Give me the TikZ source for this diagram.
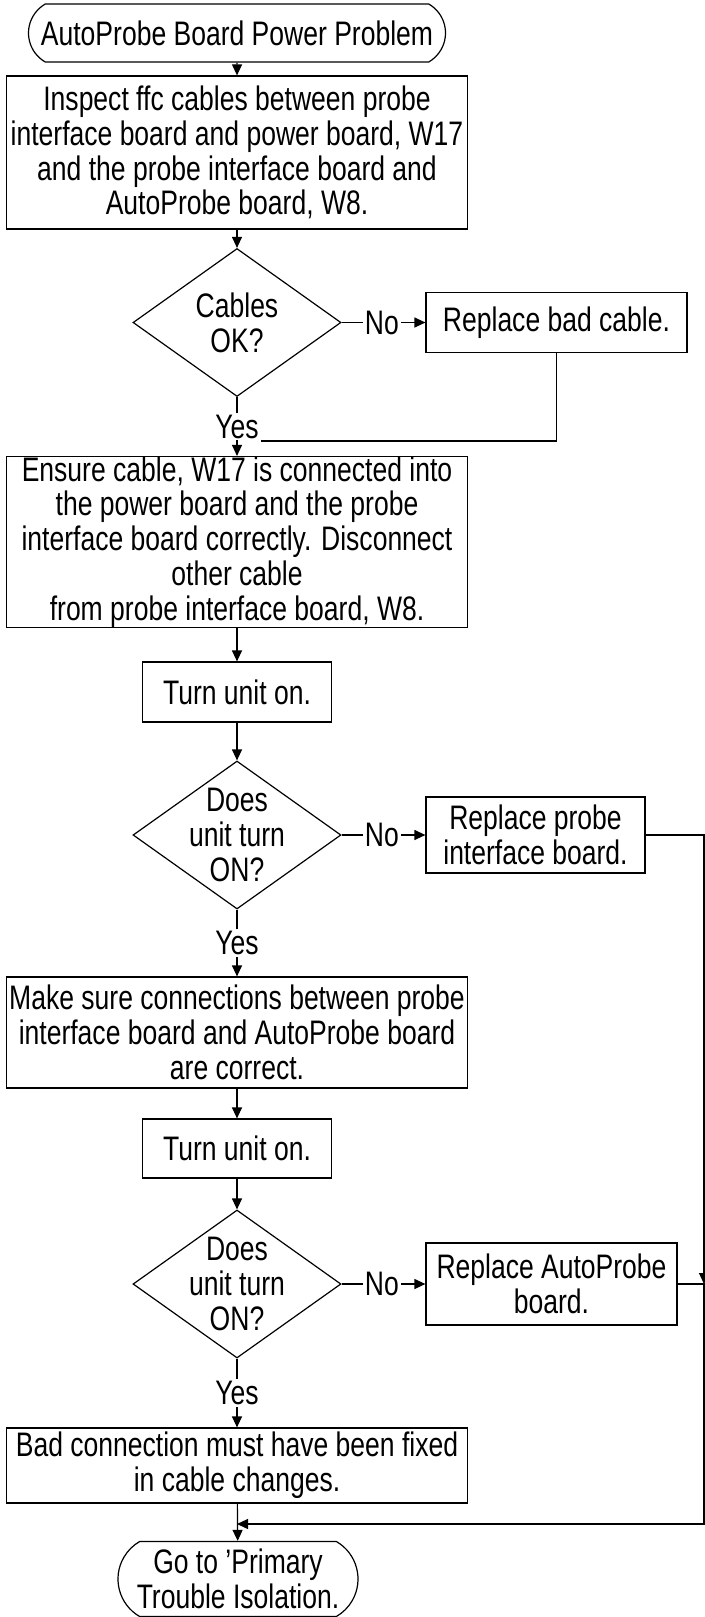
\documentclass[tikz,border=0pt]{standalone}
\usepackage{fontspec}
\setmainfont{Liberation Sans}[FakeStretch=0.78]
\usepackage{tikz}
\usetikzlibrary{arrows.meta, positioning, shapes.geometric, shapes.misc}

\tikzset{
  box/.style={draw, rectangle, align=center, inner sep=0pt},
  term/.style={draw, rounded rectangle, rounded rectangle arc length=120, align=center, inner sep=0pt},
  test/.style={draw, diamond, inner sep=0pt, minimum width=104pt, minimum height=74pt,
    label={[align=center]center:#1}},
  flow/.style={-{Triangle[length=5.5pt,width=5pt]}},
  lbl/.style={fill=white, inner sep=1pt},
}

\begin{document}
\begin{tikzpicture}[x=0.5pt, y=-0.5pt, line width=0.6pt, font={\fontsize{17}{17.4}\selectfont}]
  \useasboundingbox (0,0) rectangle (705,1617);

  % main column
  \node[term, minimum width=208.5pt, minimum height=29pt] (start) at (237,33) {AutoProbe Board Power Problem};
  \node[box, minimum width=230.5pt, minimum height=76.5pt] (inspect) at (237,152.5)
    {Inspect ffc cables between probe\\interface board and power board, W17\\and the probe interface board and\\AutoProbe board, W8.};
  \node[test={Cables\\OK?}] (cablesok) at (237,322.5) {};
  \node[box, minimum width=230.5pt, minimum height=85pt] (ensure) at (237,542)
    {Ensure cable, W17 is connected into\\the power board and the probe\\interface board correctly. Disconnect\\other cable\\from probe interface board, W8.};
  \node[box, minimum width=94.5pt, minimum height=30pt] (turnon1) at (237,692) {Turn unit on.};
  \node[test={Does\\unit turn\\ON?}] (turns1) at (237,835) {};
  \node[box, minimum width=230.5pt, minimum height=55.5pt] (connect) at (237,1032.5)
    {Make sure connections between probe\\interface board and AutoProbe board\\are correct.};
  \node[box, minimum width=94.5pt, minimum height=29.5pt] (turnon2) at (237,1148.5) {Turn unit on.};
  \node[test={Does\\unit turn\\ON?}] (turns2) at (237,1284) {};
  \node[box, minimum width=230.5pt, minimum height=37.5pt] (fixed) at (237,1465.5)
    {Bad connection must have been fixed\\in cable changes.};
  \node[term, minimum width=120pt, minimum height=37.5pt] (gotopti) at (238,1579) {Go to 'Primary\\Trouble Isolation.};

  % side boxes
  \node[box, minimum width=130.5pt, minimum height=30pt] (badcable) at (556.5,322.5) {Replace bad cable.};
  \node[box, minimum width=109.5pt, minimum height=38pt] (rpib) at (535.5,835) {Replace probe\\interface board.};
  \node[box, minimum width=125.5pt, minimum height=41pt] (rapb) at (551.5,1284) {Replace AutoProbe\\board.};

  \coordinate (railA) at (704,1284);
  \coordinate (merge) at (237,1524);

  % arrows
  \draw[flow] (start) -- (inspect);
  \draw[flow] (inspect) -- (cablesok);
  \draw[flow] (cablesok) -- node[lbl, pos=0.48] (no1) {No} (badcable);
  \draw[flow] (cablesok) -- node[lbl] (yes1) {Yes} (ensure);
  \draw (badcable.south) |- (yes1.south east);
  \draw[flow] (ensure) -- (turnon1);
  \draw[flow] (turnon1) -- (turns1);
  \draw[flow] (turns1) -- node[lbl, pos=0.48] (no2) {No} (rpib);
  \draw[flow] (turns1) -- node[lbl] (yes2) {Yes} (connect);
  \draw[flow] (connect) -- (turnon2);
  \draw[flow] (turnon2) -- (turns2);
  \draw[flow] (turns2) -- node[lbl, pos=0.48] (no3) {No} (rapb);
  \draw[flow] (turns2) -- node[lbl] (yes3) {Yes} (fixed);
  \draw[flow] (fixed) -- (gotopti);

  % right rail
  \draw[flow] (rpib.east) -| (railA);
  \draw[flow] (rapb.east) -- (railA) |- (merge);
\end{tikzpicture}
\end{document}
